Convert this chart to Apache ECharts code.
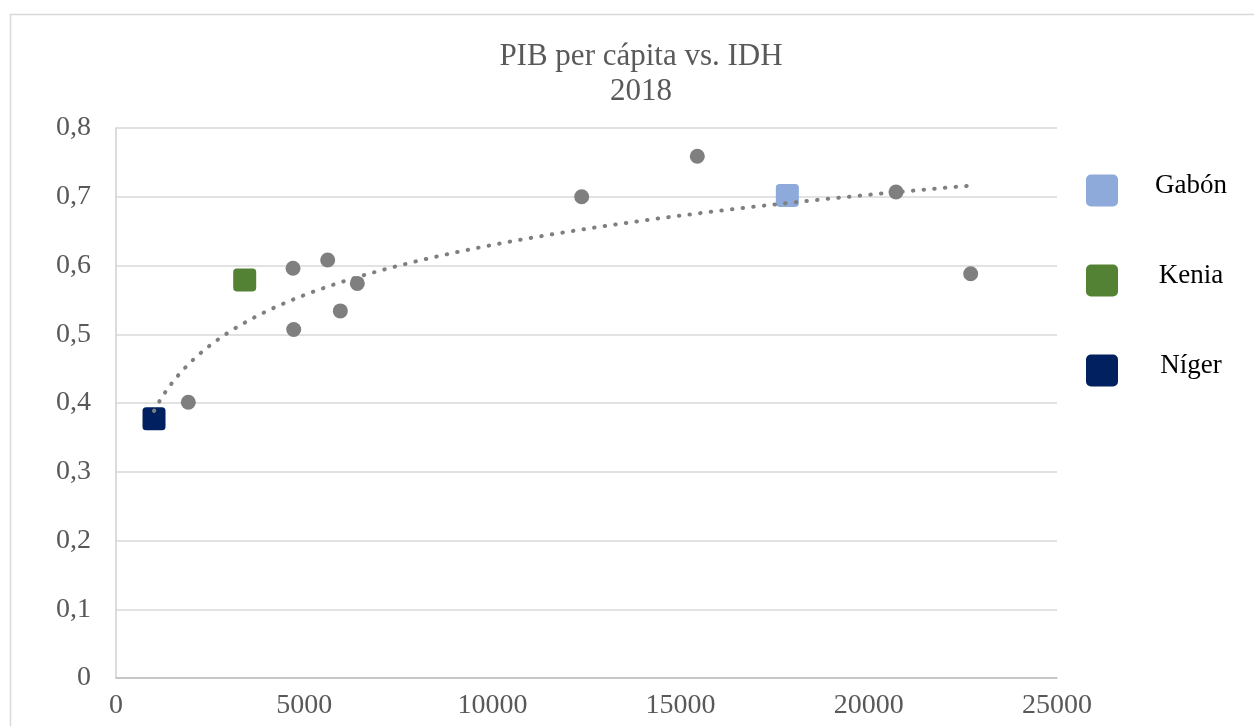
<!DOCTYPE html>
<html>
<head>
<meta charset="utf-8">
<script src="https://cdn.jsdelivr.net/npm/echarts@6/dist/echarts.min.js"></script>
<style>
  html, body { margin: 0; padding: 0; background: #fff; }
  #chart { width: 1254px; height: 726px; }
</style>
</head>
<body>
<div id="chart"></div>
<script>
// PIB per cápita (x) e IDH (y), 2018
const otrosPIB = [1921, 4703, 4721, 5624, 5960, 6411, 12372, 15444, 20723, 22707];
const otrosIDH = [0.401, 0.596, 0.507, 0.608, 0.534, 0.574, 0.700, 0.759, 0.707, 0.588];

const destacados = ['Gabón', 'Kenia', 'Níger'];
const destacadosPIB = [17836, 3419, 1010];
const destacadosIDH = [0.702, 0.579, 0.377];
const destacadosColor = ['#8eaadb', '#548235', '#002060'];

const xTicks = [0, 5000, 10000, 15000, 20000, 25000];
const yTicks = [0, 0.1, 0.2, 0.3, 0.4, 0.5, 0.6, 0.7, 0.8];

// Logarithmic trend line (least squares on ln x) over all points
const todosPIB = otrosPIB.concat(destacadosPIB);
const todosIDH = otrosIDH.concat(destacadosIDH);
function ajusteLog(xs, ys) {
  const n = xs.length;
  const lx = xs.map(Math.log);
  const mx = lx.reduce((a, b) => a + b, 0) / n;
  const my = ys.reduce((a, b) => a + b, 0) / n;
  let sxy = 0, sxx = 0;
  for (let i = 0; i < n; i++) {
    sxy += (lx[i] - mx) * (ys[i] - my);
    sxx += (lx[i] - mx) * (lx[i] - mx);
  }
  const b = sxy / sxx;
  return { a: my - b * mx, b: b };
}
const fit = ajusteLog(todosPIB, todosIDH);
const xMin = Math.min(...todosPIB), xMax = Math.max(...todosPIB);
const tendencia = [];
for (let i = 0; i <= 200; i++) {
  const x = xMin + (xMax - xMin) * i / 200;
  tendencia.push([x, fit.a + fit.b * Math.log(x)]);
}

const FONT = 'Liberation Serif';
const roundSquare = 'path://M5,0H27A5,5 0 0 1 32,5V27A5,5 0 0 1 27,32H5A5,5 0 0 1 0,27V5A5,5 0 0 1 5,0Z';

const series = [{
  name: 'otros',
  type: 'scatter',
  symbol: 'circle',
  symbolSize: 15,
  itemStyle: { color: '#7f7f7f', opacity: 1 },
  data: otrosPIB.map((x, i) => [x, otrosIDH[i]]),
  z: 2
}];
destacados.forEach((nombre, i) => {
  series.push({
    name: nombre,
    type: 'scatter',
    symbol: roundSquare,
    symbolSize: 23,
    itemStyle: { color: destacadosColor[i], opacity: 1 },
    data: [[destacadosPIB[i], destacadosIDH[i]]],
    z: 3
  });
});
series.push({
  name: 'tendencia',
  type: 'line',
  showSymbol: false,
  silent: true,
  data: tendencia,
  lineStyle: { color: '#7f7f7f', width: 4, type: [0.5, 10.2], cap: 'round', opacity: 1 },
  z: 5
});

const chart = echarts.init(document.getElementById('chart'));
chart.setOption({
  animation: false,
  backgroundColor: '#ffffff',
  graphic: [{
    type: 'rect',
    shape: { x: 10.5, y: 14.5, width: 1300, height: 800 },
    style: { fill: 'none', stroke: '#d9d9d9', lineWidth: 1.5 },
    silent: true
  }],
  title: {
    text: 'PIB per cápita vs. IDH\n2018',
    left: 636,
    textAlign: 'center',
    top: 34,
    textStyle: { fontFamily: FONT, fontSize: 31, fontWeight: 'normal', color: '#595959', lineHeight: 35 }
  },
  legend: {
    data: destacados,
    orient: 'vertical',
    left: 1081,
    top: 167,
    itemWidth: 32,
    itemHeight: 32,
    itemGap: 53,
    icon: roundSquare,
    itemStyle: { opacity: 1 },
    formatter: n => '{t|' + n + '}',
    textStyle: {
      rich: {
        t: { width: 136, align: 'center', fontFamily: FONT, fontSize: 27, color: '#000', lineHeight: 22, padding: [0, 0, 10, 0] }
      }
    }
  },
  grid: { left: 116, right: 197, top: 128, bottom: 48 },
  xAxis: {
    type: 'value',
    min: xTicks[0],
    max: xTicks[xTicks.length - 1],
    interval: xTicks[1] - xTicks[0],
    axisLine: { show: true, lineStyle: { color: '#bfbfbf', width: 1.5 } },
    axisTick: { show: false },
    splitLine: { show: false },
    axisLabel: { fontFamily: FONT, fontSize: 28, color: '#595959', margin: 14, formatter: v => String(v) }
  },
  yAxis: {
    type: 'value',
    min: yTicks[0],
    max: yTicks[yTicks.length - 1],
    interval: 0.1,
    axisLine: { show: true, lineStyle: { color: '#d0d0d0', width: 1.5 } },
    axisTick: { show: false },
    splitLine: { show: true, lineStyle: { color: '#d9d9d9', width: 1.5 } },
    axisLabel: {
      fontFamily: FONT, fontSize: 28, color: '#595959', margin: 25,
      formatter: v => v === 0 ? '0' : v.toFixed(1).replace('.', ',')
    }
  },
  series: series
});
</script>
</body>
</html>
